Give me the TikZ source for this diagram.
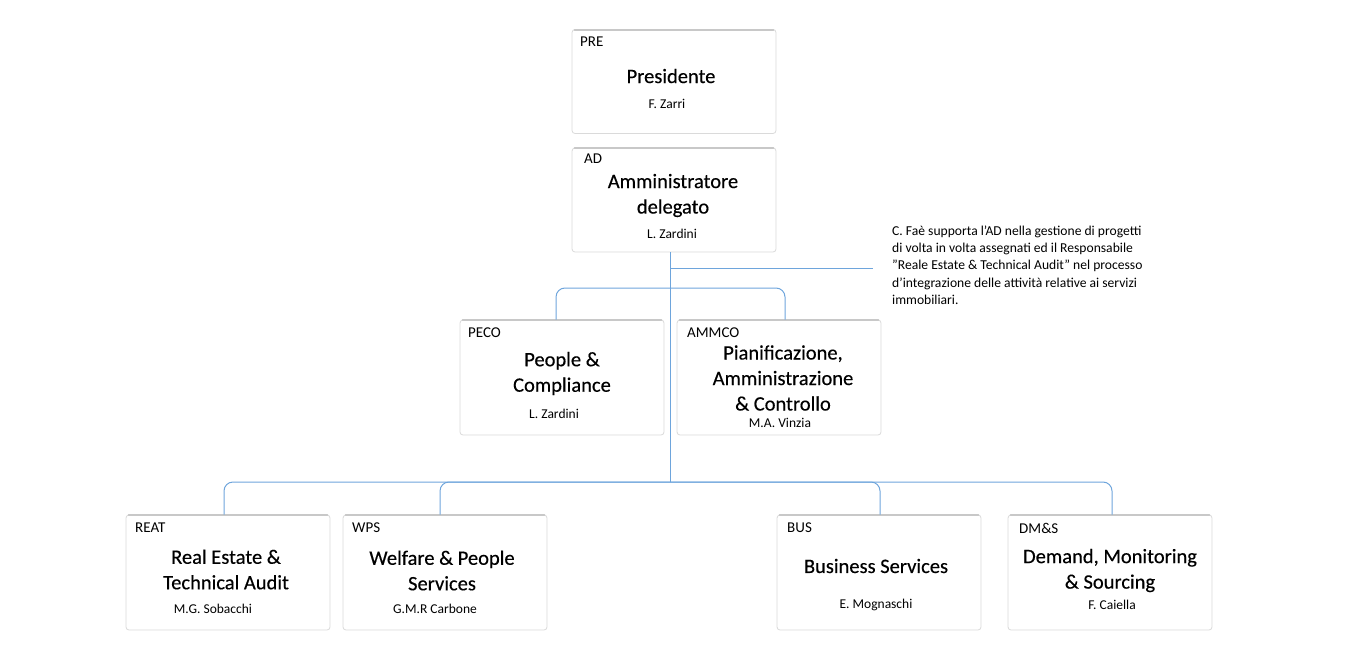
\documentclass[tikz,border=0pt]{standalone}
\usepackage{fontspec}
\setmainfont{Carlito}
\newfontface\titleface[FakeBold=0.35]{Carlito}
\begin{document}
\begin{tikzpicture}[x=1pt,y=-1pt,
  box/.style={draw=boxgray, line width=0.8pt, rounded corners=3pt, fill=white, minimum width=204pt, inner sep=0pt},
  smallbox/.style={box, minimum height=104pt},
  bigbox/.style={box, minimum height=115pt},
  code/.style={anchor=west, inner sep=0pt, font=\fontsize{15}{17}\selectfont},
  title/.style={align=center, inner sep=0pt, font=\titleface\fontsize{20.5}{25.5}\selectfont},
  who/.style={inner sep=0pt, font=\fontsize{13.5}{15}\selectfont},
  conn/.style={draw=lineblue, line width=1pt, rounded corners=9pt},
  topedge/.style={draw=topgray, line width=2pt, line cap=round},
  note/.style={align=left, anchor=west, inner sep=0pt, font=\fontsize{13.6}{17.3}\selectfont}
]
\definecolor{boxgray}{RGB}{218,218,218}
\definecolor{topgray}{RGB}{200,200,200}
\definecolor{lineblue}{RGB}{110,165,220}
\useasboundingbox (0,0) rectangle (1372,658);

% boxes
\node[smallbox] (pre)   at (674,81.5) {};
\node[smallbox] (ad)    at (674,200) {};
\node[bigbox]   (peco)  at (562,377.5) {};
\node[bigbox]   (ammco) at (779,377.5) {};
\node[bigbox]   (reat)  at (228,572.5) {};
\node[bigbox]   (wps)   at (445,572.5) {};
\node[bigbox]   (bus)   at (879,572.5) {};
\node[bigbox]   (dms)   at (1110,572.5) {};

\foreach \b in {pre,ad,peco,ammco,reat,wps,bus,dms}{
  \draw[topedge] ([xshift=3pt,yshift=-0.6pt]\b.north west) -- ([xshift=-3pt,yshift=-0.6pt]\b.north east);
}

% texts
\node[code] (pre-c) at (580,42) {PRE};
\node[title] (pre-t) at (671,76) {Presidente};
\node[who] (pre-n) at (667,104) {F. Zarri};

\node[code] (ad-c) at (584,159) {AD};
\node[title] (ad-t) at (673,195.5) {Amministratore\\delegato};
\node[who] (ad-n) at (672,234) {L. Zardini};

\node[code] (peco-c) at (468,333) {PECO};
\node[title] (peco-t) at (562,373.5) {People \&\\Compliance};
\node[who] (peco-n) at (554,414) {L. Zardini};

\node[code] (ammco-c) at (687,333) {AMMCO};
\node[title] (ammco-t) at (783,378) {Pianificazione,\\Amministrazione\\\& Controllo};
\node[who] (ammco-n) at (780,423) {M.A. Vinzia};

\node[code] (reat-c) at (135,528) {REAT};
\node[title] (reat-t) at (226,569.5) {Real Estate \&\\Technical Audit};
\node[who] (reat-n) at (213,609) {M.G. Sobacchi};

\node[code] (wps-c) at (352,528) {WPS};
\node[title] (wps-t) at (442,570.5) {Welfare \& People\\Services};
\node[who] (wps-n) at (435,609) {G.M.R Carbone};

\node[code] (bus-c) at (787,528) {BUS};
\node[title] (bus-t) at (876,566) {Business Services};
\node[who] (bus-n) at (876,605) {E. Mognaschi};

\node[code] (dms-c) at (1019,528) {DM\&S};
\node[title] (dms-t) at (1110,570.5) {Demand, Monitoring\\\& Sourcing};
\node[who] (dms-n) at (1112,605) {F. Caiella};

\node[note] (note) at (892,265) {C. Faè supporta l’AD nella gestione di progetti\\di volta in volta assegnati ed il Responsabile\\\char34 Reale Estate \& Technical Audit\char34{} nel processo\\d’integrazione delle attività relative ai servizi\\immobiliari.};

% connectors
\coordinate (j1) at (670,288);
\coordinate (j2) at (670,482);
\coordinate (ja) at (670,268);
\path (ja -| note.west) coordinate (jb);
\draw[conn] (ad.south -| j1) -- (j2);
\draw[conn] ([xshift=-6pt]peco.north) |- (j1) -| ([xshift=6pt]ammco.north);
\draw[conn] ([xshift=-4pt]reat.north) |- (j2) -| ([xshift=2pt]dms.north);
\draw[conn] ([xshift=-5pt]wps.north) |- (j2);
\draw[conn] ([xshift=1pt]bus.north) |- (j2);
\draw[conn] (ja) -- ([xshift=-19pt]jb);
\end{tikzpicture}
\end{document}
